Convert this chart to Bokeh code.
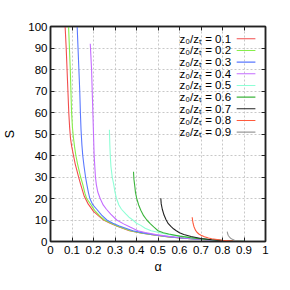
from bokeh.plotting import figure
from bokeh.models import Range1d, FixedTicker, LinearAxis, Label, Arrow
from bokeh.embed import file_html
from bokeh.resources import INLINE

# ---- data ----
ratios = ["0.1", "0.2", "0.3", "0.4", "0.5", "0.6", "0.7", "0.8", "0.9"]
colors = ["#f24e4e", "#86ee4a", "#5a78ff", "#c46cff", "#8effd6",
          "#3cb43c", "#222222", "#ff5a3c", "#9a9a9a"]

a01 = [0.068, 0.073, 0.077, 0.081, 0.085, 0.089, 0.093, 0.099, 0.107, 0.115, 0.123, 0.132, 0.142, 0.157, 0.175, 0.200, 0.225, 0.247, 0.275, 0.310, 0.367, 0.420, 0.480, 0.550, 0.620, 0.700, 0.780, 0.850, 0.900]
s01 = [100, 90, 80, 70, 60, 53, 48, 44, 40, 36, 33, 29.5, 26, 21, 17.5, 14, 11.8, 10, 8.6, 7.1, 5, 4, 3, 2.1, 1.5, 0.95, 0.5, 0.25, 0.05]
a02 = [0.084, 0.088, 0.092, 0.095, 0.098, 0.102, 0.107, 0.112, 0.118, 0.126, 0.133, 0.140, 0.150, 0.160, 0.168, 0.182, 0.205, 0.228, 0.251, 0.280, 0.310, 0.372, 0.420, 0.480, 0.550, 0.620, 0.700, 0.780, 0.850, 0.900]
s02 = [100, 90, 80, 70, 60, 53, 48, 44, 40, 36, 33, 30, 26.6, 22.5, 20, 18, 14.5, 12, 10, 8.6, 7.2, 5, 4, 3, 2.1, 1.5, 0.95, 0.5, 0.25, 0.05]
a03 = [0.124, 0.128, 0.132, 0.136, 0.139, 0.142, 0.146, 0.150, 0.156, 0.163, 0.169, 0.176, 0.183, 0.197, 0.215, 0.238, 0.262, 0.290, 0.320, 0.383, 0.430, 0.490, 0.550, 0.620, 0.700, 0.780, 0.850, 0.900]
s03 = [100, 90, 80, 70, 60, 52, 45, 40, 35, 30, 26.6, 23, 20, 17, 15, 12.3, 10, 8.5, 7.2, 5, 4, 3, 2.2, 1.5, 0.95, 0.5, 0.25, 0.05]
a04 = [0.185, 0.188, 0.191, 0.194, 0.197, 0.200, 0.203, 0.206, 0.209, 0.213, 0.220, 0.231, 0.245, 0.260, 0.280, 0.308, 0.340, 0.370, 0.406, 0.440, 0.490, 0.550, 0.620, 0.700, 0.780, 0.850, 0.900]
s04 = [92, 86, 80, 70, 60, 50, 40, 35, 30, 26.6, 23, 20, 17, 15, 12.7, 10, 8.2, 6.7, 5, 4.2, 3.2, 2.4, 1.6, 1.0, 0.55, 0.25, 0.05]
a05 = [0.274, 0.276, 0.278, 0.281, 0.287, 0.294, 0.300, 0.307, 0.318, 0.330, 0.350, 0.365, 0.383, 0.400, 0.420, 0.440, 0.468, 0.520, 0.560, 0.600, 0.650, 0.700, 0.750, 0.800, 0.850, 0.900]
s05 = [52, 45, 40, 35, 30, 26.6, 23, 20, 17, 15, 12.8, 11.3, 10, 8.5, 7.5, 6.2, 5, 3.8, 3, 2.5, 1.8, 1.3, 0.8, 0.5, 0.25, 0.05]
a06 = [0.386, 0.388, 0.391, 0.395, 0.401, 0.410, 0.420, 0.433, 0.448, 0.465, 0.480, 0.500, 0.525, 0.550, 0.600, 0.650, 0.700, 0.750, 0.800, 0.850, 0.900]
s06 = [32.4, 29, 26.6, 23, 20, 17, 14.5, 12, 10, 8.2, 6.8, 5, 4.1, 3.5, 2.5, 1.8, 1.2, 0.8, 0.45, 0.2, 0.05]
a07 = [0.513, 0.515, 0.520, 0.528, 0.538, 0.548, 0.560, 0.572, 0.585, 0.600, 0.620, 0.654, 0.700, 0.750, 0.800, 0.850, 0.900]
s07 = [20.1, 17.5, 15, 12.3, 10, 8.3, 7, 5.9, 5, 4.1, 3.3, 2.3, 1.4, 0.8, 0.4, 0.15, 0.02]
a08 = [0.659, 0.661, 0.663, 0.667, 0.674, 0.681, 0.690, 0.700, 0.716, 0.735, 0.750, 0.800, 0.850, 0.900]
s08 = [11.3, 9.8, 8.5, 7, 5.3, 4.3, 3.5, 2.9, 2.2, 1.6, 1.25, 0.6, 0.2, 0.02]
a09 = [0.822, 0.824, 0.827, 0.832, 0.838, 0.846, 0.856, 0.870, 0.885, 0.900]
s09 = [4.6, 3.6, 2.8, 2.1, 1.5, 1.0, 0.55, 0.25, 0.08, 0.0]

alphas = [a01, a02, a03, a04, a05, a06, a07, a08, a09]
svals = [s01, s02, s03, s04, s05, s06, s07, s08, s09]

x_ticks = [0, 0.1, 0.2, 0.3, 0.4, 0.5, 0.6, 0.7, 0.8, 0.9, 1]
x_tick_labels = ["0", "0.1", "0.2", "0.3", "0.4", "0.5", "0.6", "0.7", "0.8", "0.9", "1"]
y_ticks = [0, 10, 20, 30, 40, 50, 60, 70, 80, 90, 100]
y_tick_labels = ["0", "10", "20", "30", "40", "50", "60", "70", "80", "90", "100"]

FONT = "Liberation Sans"

p = figure(frame_width=215, frame_height=215, output_backend="svg", toolbar_location=None,
           x_range=Range1d(0, 1), y_range=Range1d(0, 100),
           min_border_left=43, min_border_right=16, min_border_top=26, min_border_bottom=33)
p.background_fill_color = "white"
p.border_fill_color = "white"
p.outline_line_color = "#222222"
p.outline_line_width = 1.5

for ax, ticks, labels in ((p.xaxis[0], x_ticks, x_tick_labels), (p.yaxis[0], y_ticks, y_tick_labels)):
    ax.ticker = FixedTicker(ticks=ticks)
    ax.major_label_overrides = {t: l for t, l in zip(ticks, labels)}
    ax.major_tick_in = 4
    ax.major_tick_out = 0
    ax.minor_tick_in = 0
    ax.minor_tick_out = 0
    ax.axis_line_color = "#222222"
    ax.axis_line_width = 1.5
    ax.major_tick_line_color = "#222222"
    ax.major_label_text_font = FONT
    ax.major_label_text_font_size = "11.5px"
    ax.major_label_text_color = "black"
    ax.axis_label_text_font = FONT
    ax.axis_label_text_font_size = "12.5px"
    ax.axis_label_text_font_style = "normal"
    ax.axis_label_text_color = "black"

p.xaxis.axis_label = "α"
p.yaxis.axis_label = "S"
p.xaxis.major_label_standoff = 4
p.yaxis.major_label_standoff = 3
p.xaxis.axis_label_standoff = 3
p.yaxis.axis_label_standoff = 8

for loc, ticks in (("right", y_ticks), ("above", x_ticks)):
    ax = LinearAxis(ticker=FixedTicker(ticks=ticks), major_label_text_font_size="0px",
                    major_tick_in=4, major_tick_out=0, minor_tick_in=0, minor_tick_out=0,
                    axis_line_color="#222222", axis_line_width=1.5, major_tick_line_color="#222222")
    ax.major_label_overrides = {t: "" for t in ticks}
    p.add_layout(ax, loc)

for g in (p.xgrid[0], p.ygrid[0]):
    g.grid_line_color = "#c8c8c8"
    g.grid_line_dash = "2 2"
    g.grid_line_width = 1
p.xgrid.ticker = FixedTicker(ticks=x_ticks)
p.ygrid.ticker = FixedTicker(ticks=y_ticks)

for xs, ys, c in zip(alphas, svals, colors):
    p.line(xs, ys, line_color=c, line_width=1.1)

# key (labels left, sample lines right)
for i, (r, c) in enumerate(zip(ratios, colors)):
    yy = 94.3 - 5.43 * i
    p.add_layout(Label(x=0.6, y=yy, text="z₀/zₜ = " + r, text_font=FONT, text_font_size="11.5px",
                       text_baseline="middle", text_align="left", text_color="black"))
    p.add_layout(Arrow(end=None, start=None, x_start=0.866, y_start=yy, x_end=0.953, y_end=yy,
                       line_color=c, line_width=1.1))

open("out.html", "w").write(file_html(p, INLINE))
